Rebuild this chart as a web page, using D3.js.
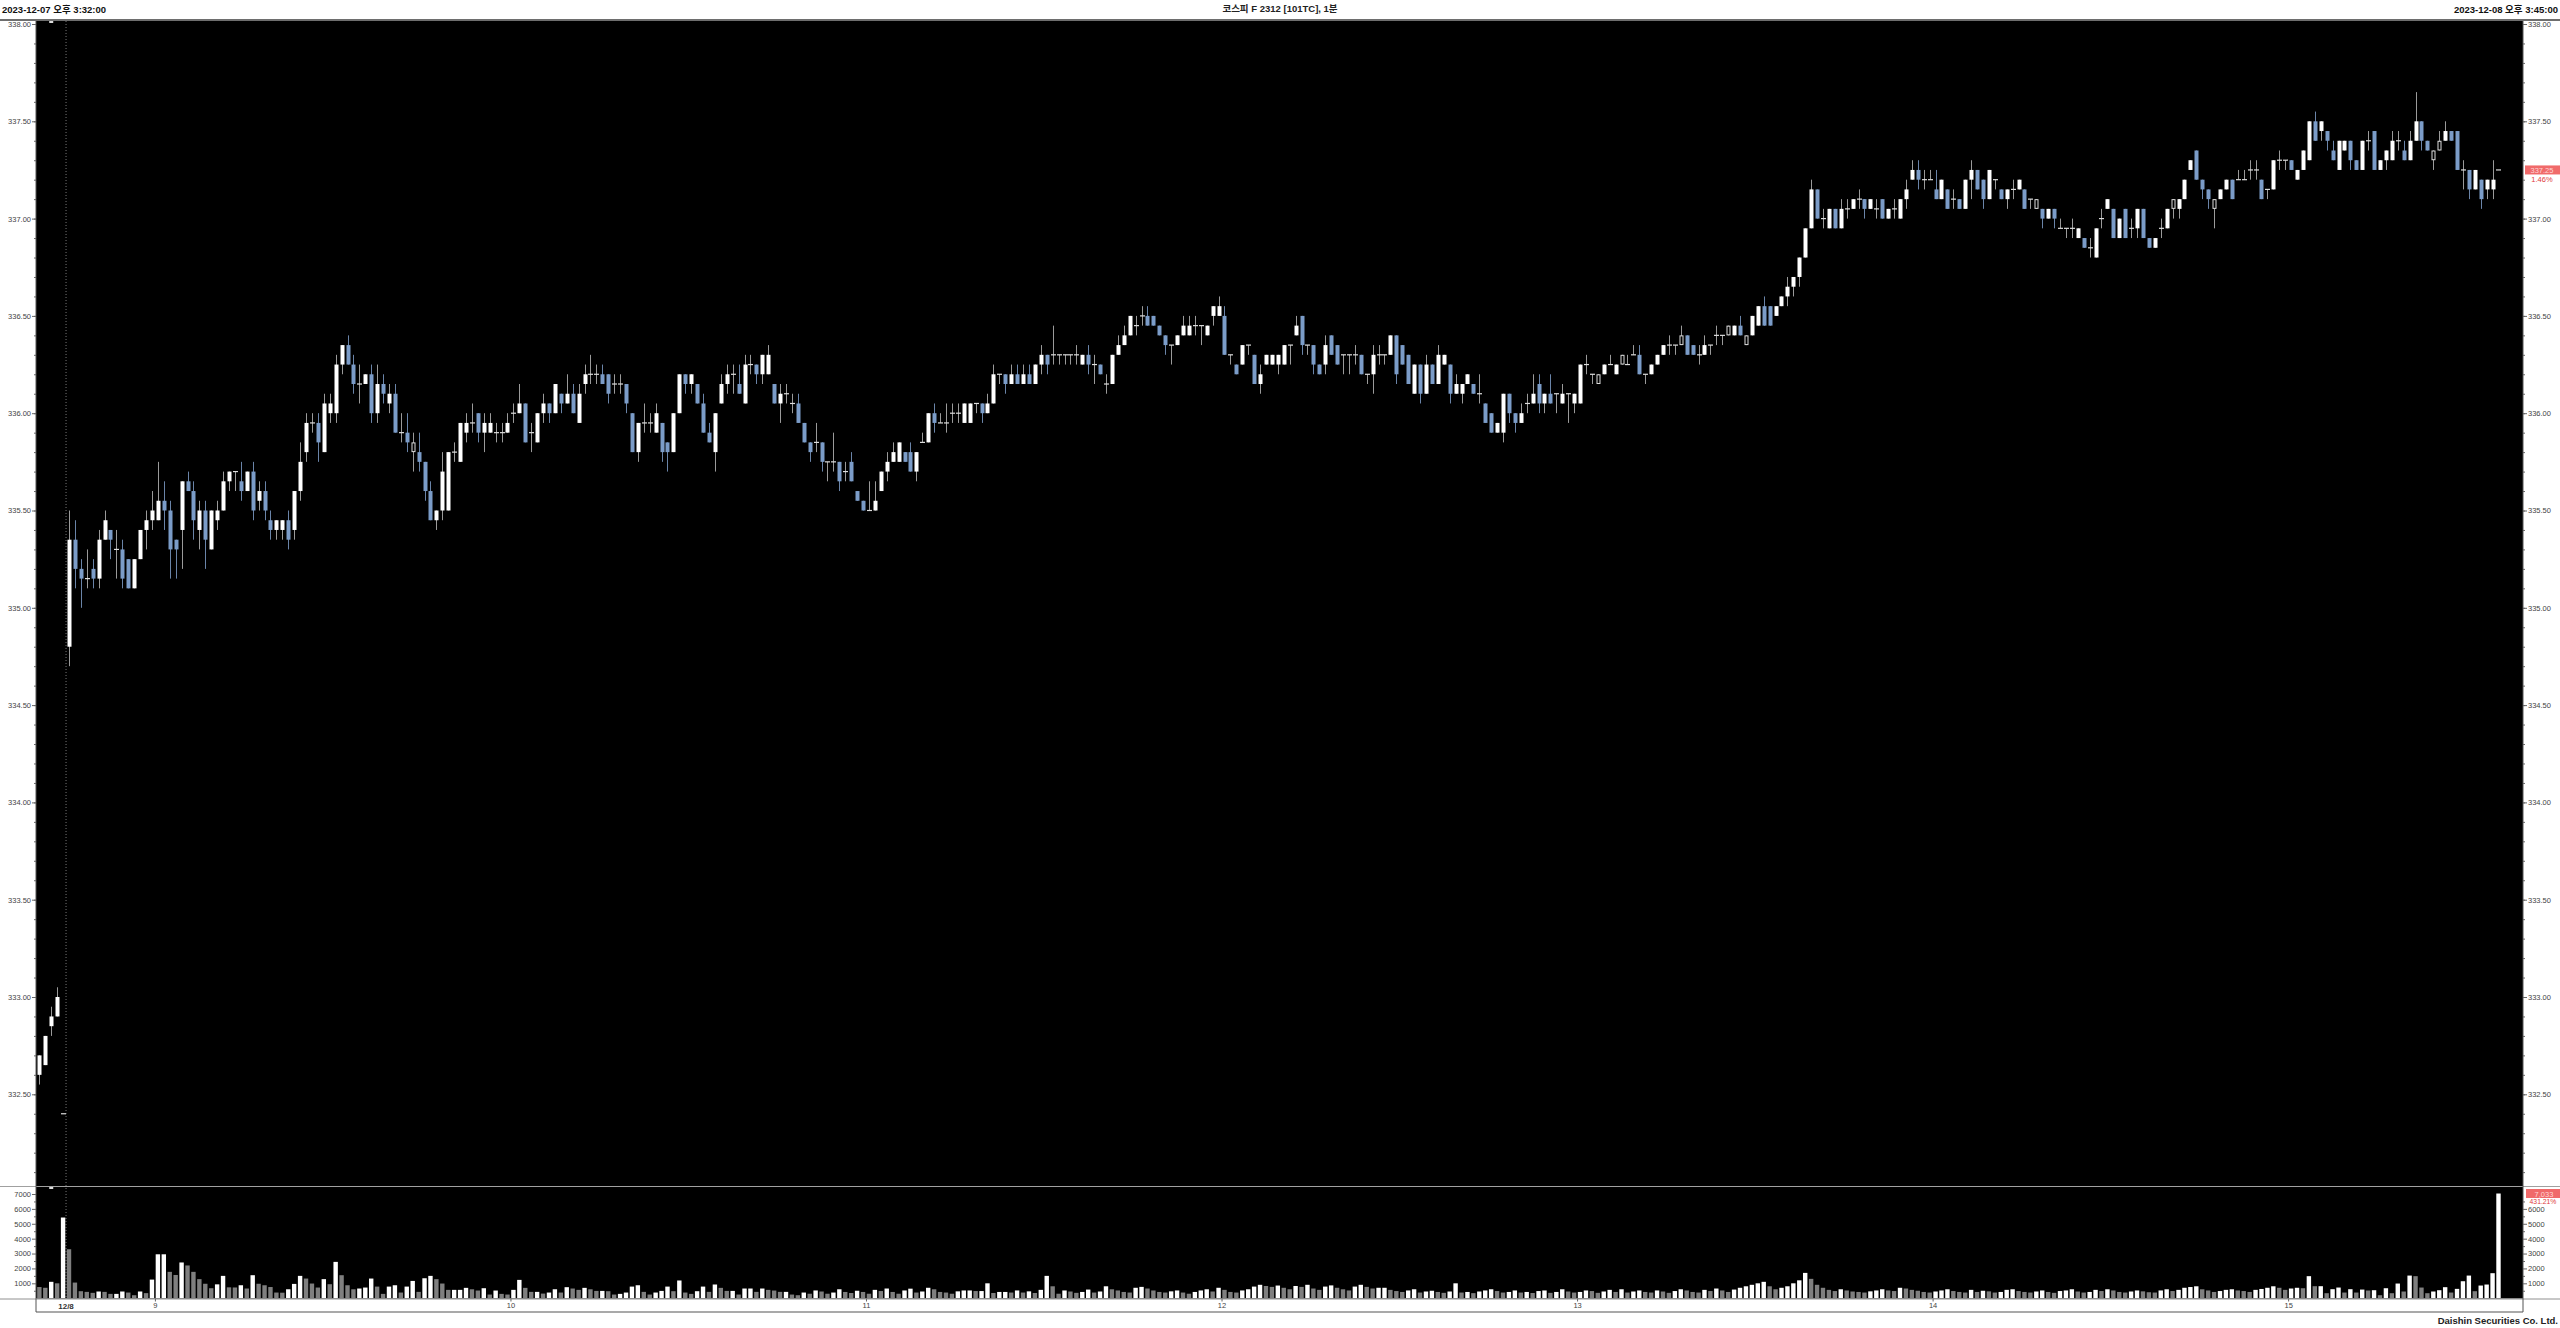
<!DOCTYPE html>
<html><head><meta charset="utf-8">
<script src="https://cdn.jsdelivr.net/npm/d3@7"></script>
<style>
html,body{margin:0;padding:0;background:#fff;}
svg{display:block;}
text{font-family:"Liberation Sans","Noto Sans CJK KR",Arial,sans-serif;}
</style></head>
<body>
<svg id="c" width="2560" height="1328"></svg>
<script>
// ---------------- DATA ----------------
// candle index: -5..-1 = 2023-12-07 15:32..15:45, 0..410 = 2023-12-08 08:45..15:45 (1-minute)
const open = [
332.60,332.65,332.85,332.90,332.40,
334.80,335.35,335.20,335.15,335.20,335.15,335.35,335.40,335.30,335.30,
335.25,335.10,335.25,335.40,335.45,335.45,335.55,335.50,335.35,335.40,
335.65,335.60,335.40,335.50,335.30,335.45,335.50,335.65,335.70,335.65,
335.60,335.70,335.55,335.60,335.45,335.40,335.40,335.45,335.40,335.60,
335.80,335.95,335.95,335.80,336.00,336.00,336.25,336.35,336.25,336.15,
336.15,336.20,336.00,336.15,336.05,336.10,335.90,335.90,335.80,335.80,
335.75,335.60,335.45,335.50,335.50,335.80,335.75,335.90,335.95,336.00,
335.90,335.90,335.90,335.90,335.90,336.00,336.00,336.05,335.90,335.85,
336.00,336.05,336.00,336.10,336.05,336.10,335.95,336.15,336.20,336.20,
336.20,336.20,336.15,336.15,336.15,336.00,335.80,335.95,335.95,335.90,
335.95,335.85,335.80,336.00,336.20,336.15,336.15,336.05,335.90,335.80,
336.05,336.15,336.20,336.15,336.05,336.25,336.25,336.20,336.20,336.15,
336.05,336.10,336.05,336.05,335.95,335.85,335.85,335.85,335.75,335.75,
335.75,335.70,335.75,335.60,335.55,335.50,335.50,335.60,335.70,335.75,
335.75,335.80,335.80,335.70,335.85,335.85,336.00,335.95,335.95,336.00,
336.00,335.95,335.95,336.05,336.05,336.00,336.05,336.20,336.20,336.15,
336.20,336.15,336.20,336.15,336.25,336.30,336.30,336.30,336.30,336.30,
336.30,336.25,336.30,336.25,336.25,336.15,336.15,336.30,336.35,336.40,
336.45,336.50,336.50,336.50,336.45,336.40,336.35,336.35,336.40,336.40,
336.45,336.45,336.40,336.50,336.50,336.50,336.30,336.25,336.25,336.35,
336.30,336.15,336.25,336.25,336.25,336.25,336.35,336.40,336.50,336.35,
336.35,336.25,336.25,336.40,336.35,336.30,336.30,336.30,336.30,336.20,
336.20,336.30,336.30,336.30,336.40,336.35,336.30,336.10,336.25,336.10,
336.25,336.15,336.25,336.25,336.10,336.10,336.15,336.15,336.10,336.05,
336.00,335.90,335.90,336.10,336.00,335.95,336.05,336.05,336.15,336.05,
336.10,336.10,336.05,336.10,336.05,336.05,336.25,336.20,336.15,336.20,
336.25,336.20,336.25,336.25,336.30,336.30,336.20,336.20,336.25,336.30,
336.35,336.35,336.35,336.40,336.35,336.30,336.30,336.35,336.40,336.40,
336.40,336.40,336.45,336.35,336.40,336.45,336.55,336.55,336.50,336.55,
336.60,336.65,336.70,336.80,336.95,337.15,337.00,336.95,337.05,336.95,
337.05,337.05,337.10,337.10,337.05,337.05,337.10,337.00,337.05,337.00,
337.10,337.20,337.25,337.20,337.20,337.15,337.10,337.15,337.10,337.10,
337.05,337.20,337.25,337.20,337.10,337.20,337.15,337.10,337.15,337.15,
337.15,337.10,337.05,337.05,337.00,337.05,336.95,336.95,336.95,336.90,
336.90,336.85,336.80,337.00,337.05,337.05,336.90,337.05,336.95,336.95,
337.05,336.90,336.85,336.95,336.95,337.05,337.05,337.10,337.25,337.35,
337.20,337.15,337.05,337.10,337.15,337.20,337.20,337.20,337.25,337.25,
337.20,337.15,337.15,337.30,337.30,337.30,337.20,337.25,337.30,337.50,
337.45,337.45,337.35,337.25,337.35,337.40,337.30,337.25,337.40,337.45,
337.25,337.30,337.30,337.40,337.35,337.30,337.40,337.50,337.40,337.30,
337.35,337.40,337.45,337.45,337.25,337.25,337.15,337.20,337.15,337.15,337.25
];
const close = [
332.70,332.80,332.90,333.00,332.40,
335.35,335.20,335.15,335.15,335.15,335.35,335.45,335.35,335.30,335.15,
335.10,335.25,335.40,335.45,335.50,335.55,335.50,335.30,335.30,335.65,
335.60,335.45,335.50,335.35,335.50,335.50,335.65,335.70,335.70,335.60,
335.70,335.50,335.60,335.50,335.40,335.45,335.45,335.35,335.60,335.75,
335.95,335.95,335.85,336.05,336.05,336.25,336.35,336.25,336.15,336.15,
336.20,336.00,336.15,336.10,336.10,335.90,335.90,335.85,335.85,335.75,
335.60,335.45,335.50,335.70,335.80,335.80,335.95,335.95,335.95,335.90,
335.95,335.95,335.90,335.90,335.95,336.00,336.05,335.85,335.90,336.00,
336.05,336.00,336.15,336.05,336.10,336.00,336.10,336.20,336.20,336.20,
336.15,336.10,336.15,336.15,336.05,335.80,335.95,335.95,335.95,336.00,
335.80,335.80,336.00,336.20,336.15,336.20,336.05,335.90,335.85,336.00,
336.15,336.20,336.20,336.10,336.25,336.25,336.20,336.30,336.30,336.05,
336.10,336.10,336.05,335.95,335.85,335.80,335.85,335.75,335.75,335.75,
335.65,335.70,335.65,335.55,335.50,335.50,335.55,335.70,335.75,335.80,
335.85,335.75,335.70,335.80,335.85,336.00,335.95,335.95,335.95,336.00,
336.00,336.05,336.05,336.05,336.00,336.05,336.20,336.20,336.15,336.20,
336.15,336.20,336.15,336.25,336.30,336.25,336.30,336.30,336.30,336.30,
336.30,336.30,336.25,336.25,336.20,336.15,336.30,336.35,336.40,336.50,
336.45,336.50,336.45,336.45,336.40,336.35,336.35,336.40,336.45,336.45,
336.45,336.45,336.45,336.55,336.55,336.30,336.30,336.20,336.35,336.35,
336.15,336.20,336.30,336.30,336.30,336.35,336.35,336.45,336.35,336.35,
336.25,336.20,336.35,336.30,336.25,336.30,336.30,336.30,336.20,336.20,
336.30,336.30,336.30,336.40,336.20,336.25,336.15,336.25,336.10,336.25,
336.15,336.30,336.30,336.10,336.15,336.15,336.20,336.10,336.10,335.95,
335.90,335.95,336.10,336.00,335.95,336.00,336.05,336.10,336.05,336.10,
336.05,336.10,336.10,336.10,336.10,336.25,336.25,336.20,336.20,336.25,
336.25,336.25,336.30,336.25,336.30,336.20,336.20,336.25,336.30,336.35,
336.35,336.35,336.40,336.30,336.30,336.30,336.35,336.35,336.40,336.40,
336.45,336.45,336.40,336.40,336.50,336.55,336.45,336.45,336.55,336.60,
336.65,336.70,336.80,336.95,337.15,337.00,337.00,337.05,336.95,337.05,
337.05,337.10,337.10,337.05,337.10,337.05,337.00,337.05,337.05,337.10,
337.15,337.25,337.20,337.20,337.20,337.10,337.20,337.05,337.10,337.05,
337.20,337.25,337.15,337.10,337.25,337.20,337.10,337.15,337.15,337.20,
337.05,337.10,337.10,337.00,337.05,337.00,336.95,336.95,336.95,336.95,
336.85,336.85,336.95,337.00,337.10,336.90,337.00,336.90,336.95,337.05,
336.90,336.85,336.90,336.95,337.05,337.10,337.10,337.20,337.30,337.20,
337.15,337.10,337.10,337.15,337.20,337.10,337.20,337.20,337.25,337.25,
337.10,337.15,337.30,337.30,337.30,337.25,337.25,337.35,337.50,337.40,
337.50,337.40,337.30,337.40,337.40,337.30,337.25,337.40,337.40,337.25,
337.30,337.35,337.40,337.40,337.30,337.40,337.50,337.40,337.35,337.35,
337.40,337.45,337.40,337.25,337.25,337.15,337.25,337.10,337.20,337.20,337.25
];
const high = [
332.70,332.80,332.95,333.05,332.40,
335.50,335.45,335.25,335.30,335.25,335.40,335.50,335.40,335.40,335.35,
335.25,335.25,335.40,335.50,335.60,335.75,335.65,335.55,335.35,335.65,
335.70,335.65,335.55,335.55,335.50,335.55,335.70,335.70,335.70,335.75,
335.70,335.75,335.65,335.65,335.50,335.45,335.45,335.50,335.60,335.85,
336.00,336.00,336.00,336.10,336.10,336.30,336.35,336.40,336.30,336.25,
336.20,336.25,336.25,336.20,336.15,336.15,336.00,336.00,335.90,335.90,
335.75,335.65,335.50,335.80,335.80,335.85,335.95,336.00,336.05,336.00,
336.00,336.00,335.95,335.95,336.00,336.05,336.15,336.05,335.95,336.00,
336.10,336.05,336.15,336.10,336.20,336.15,336.15,336.25,336.30,336.25,
336.25,336.20,336.20,336.20,336.15,336.00,335.95,336.05,336.00,336.05,
335.95,335.85,336.00,336.20,336.20,336.20,336.15,336.10,335.95,336.00,
336.20,336.25,336.25,336.25,336.30,336.30,336.25,336.30,336.35,336.15,
336.15,336.15,336.10,336.10,335.95,335.85,335.95,335.85,335.75,335.90,
335.75,335.75,335.80,335.60,335.55,335.65,335.65,335.70,335.80,335.85,
335.85,335.80,335.85,335.80,335.90,336.00,336.05,336.00,336.05,336.05,
336.05,336.05,336.05,336.05,336.05,336.10,336.25,336.20,336.20,336.25,
336.25,336.25,336.25,336.25,336.35,336.30,336.45,336.30,336.30,336.30,
336.35,336.30,336.35,336.30,336.25,336.20,336.30,336.40,336.45,336.50,
336.50,336.55,336.55,336.50,336.45,336.40,336.35,336.40,336.50,336.50,
336.50,336.45,336.45,336.55,336.60,336.55,336.30,336.25,336.35,336.35,
336.30,336.25,336.30,336.30,336.30,336.35,336.35,336.50,336.50,336.35,
336.35,336.25,336.40,336.40,336.35,336.30,336.30,336.35,336.30,336.20,
336.35,336.35,336.30,336.40,336.40,336.35,336.30,336.25,336.25,336.30,
336.25,336.35,336.30,336.25,336.20,336.15,336.20,336.15,336.20,336.05,
336.00,335.95,336.10,336.10,336.00,336.05,336.10,336.20,336.20,336.10,
336.20,336.10,336.15,336.10,336.10,336.25,336.30,336.20,336.20,336.25,
336.30,336.25,336.30,336.30,336.35,336.35,336.20,336.25,336.30,336.35,
336.40,336.35,336.45,336.40,336.35,336.35,336.40,336.35,336.45,336.40,
336.45,336.45,336.50,336.40,336.50,336.55,336.60,336.55,336.55,336.60,
336.70,336.70,336.80,336.95,337.20,337.15,337.05,337.05,337.05,337.10,
337.10,337.10,337.15,337.10,337.10,337.10,337.10,337.05,337.10,337.10,
337.20,337.30,337.30,337.25,337.25,337.25,337.20,337.15,337.15,337.10,
337.20,337.30,337.25,337.20,337.25,337.20,337.15,337.15,337.20,337.20,
337.15,337.10,337.10,337.05,337.05,337.05,337.00,336.95,337.00,336.95,
336.90,336.90,336.95,337.05,337.10,337.05,337.00,337.05,337.00,337.05,
337.05,336.90,336.90,337.00,337.05,337.10,337.10,337.20,337.30,337.35,
337.20,337.15,337.10,337.15,337.20,337.20,337.25,337.25,337.30,337.30,
337.20,337.15,337.30,337.35,337.30,337.30,337.25,337.35,337.50,337.55,
337.50,337.45,337.40,337.40,337.40,337.40,337.30,337.40,337.45,337.45,
337.30,337.35,337.45,337.45,337.40,337.45,337.65,337.50,337.40,337.35,
337.45,337.50,337.45,337.45,337.30,337.25,337.25,337.20,337.20,337.30,337.25
];
const low = [
332.55,332.65,332.80,332.90,332.40,
334.70,335.10,335.00,335.10,335.10,335.10,335.35,335.25,335.15,335.10,
335.10,335.10,335.25,335.30,335.40,335.45,335.40,335.15,335.15,335.20,
335.60,335.35,335.30,335.20,335.30,335.40,335.50,335.60,335.60,335.55,
335.60,335.45,335.50,335.45,335.35,335.35,335.35,335.30,335.35,335.55,
335.75,335.90,335.75,335.80,335.95,335.95,336.20,336.25,336.10,336.05,
336.15,335.95,335.95,336.05,336.00,335.90,335.85,335.80,335.70,335.70,
335.55,335.45,335.40,335.45,335.50,335.75,335.75,335.85,335.90,335.85,
335.80,335.90,335.85,335.85,335.90,335.95,336.00,335.85,335.80,335.85,
335.95,335.95,336.00,336.00,336.05,336.00,335.95,336.10,336.15,336.15,
336.15,336.05,336.10,336.10,336.00,335.80,335.75,335.90,335.90,335.90,
335.75,335.70,335.80,336.00,336.10,336.10,336.05,335.90,335.85,335.70,
336.05,336.10,336.10,336.10,336.05,336.20,336.15,336.15,336.20,336.05,
335.95,336.05,336.00,335.95,335.85,335.75,335.80,335.70,335.65,335.70,
335.60,335.65,335.65,335.55,335.50,335.50,335.50,335.60,335.65,335.75,
335.75,335.75,335.70,335.65,335.85,335.85,335.90,335.95,335.90,335.95,
335.95,335.95,335.95,336.00,335.95,336.00,336.05,336.15,336.10,336.15,
336.15,336.15,336.15,336.15,336.20,336.20,336.25,336.25,336.25,336.25,
336.25,336.25,336.20,336.15,336.20,336.10,336.15,336.30,336.35,336.40,
336.40,336.45,336.45,336.45,336.40,336.30,336.25,336.35,336.40,336.40,
336.40,336.35,336.40,336.45,336.50,336.30,336.25,336.20,336.25,336.30,
336.15,336.10,336.25,336.25,336.20,336.25,336.25,336.40,336.30,336.30,
336.20,336.20,336.20,336.30,336.25,336.20,336.20,336.25,336.20,336.15,
336.10,336.25,336.25,336.30,336.15,336.25,336.15,336.10,336.05,336.10,
336.15,336.15,336.25,336.05,336.10,336.05,336.15,336.10,336.05,335.95,
335.90,335.90,335.85,335.95,335.90,335.95,336.00,336.05,336.00,336.00,
336.05,336.00,336.05,335.95,336.00,336.05,336.20,336.15,336.15,336.20,
336.25,336.20,336.25,336.25,336.30,336.20,336.15,336.20,336.25,336.30,
336.30,336.30,336.35,336.30,336.30,336.25,336.30,336.30,336.35,336.35,
336.40,336.40,336.40,336.35,336.40,336.45,336.45,336.45,336.50,336.55,
336.55,336.60,336.65,336.80,336.95,337.00,336.95,336.95,336.95,336.95,
337.00,337.05,337.05,337.00,337.05,337.00,337.00,337.00,337.00,337.00,
337.05,337.20,337.15,337.15,337.20,337.10,337.10,337.05,337.05,337.05,
337.05,337.10,337.15,337.05,337.10,337.15,337.10,337.05,337.10,337.15,
337.05,337.05,337.05,336.95,337.00,336.95,336.95,336.90,336.90,336.90,
336.85,336.80,336.80,336.95,337.05,336.90,336.90,336.90,336.90,336.90,
336.90,336.85,336.85,336.90,336.95,337.00,337.00,337.10,337.25,337.20,
337.10,337.05,336.95,337.10,337.15,337.10,337.20,337.20,337.20,337.20,
337.10,337.10,337.15,337.25,337.25,337.25,337.20,337.25,337.30,337.40,
337.40,337.35,337.30,337.25,337.35,337.25,337.25,337.25,337.35,337.25,
337.25,337.25,337.30,337.35,337.30,337.30,337.40,337.35,337.35,337.25,
337.35,337.40,337.40,337.25,337.15,337.10,337.15,337.05,337.10,337.10,337.25
];
const volume = [
750,700,1100,1000,5420,
3290,1050,470,425,360,450,425,290,290,450,
380,200,450,340,1250,2950,2950,1770,1560,2400,
2200,1770,1280,970,670,930,1500,730,720,870,
650,1545,970,870,750,380,370,600,960,1500,
1320,985,716,1280,940,2440,1545,870,600,650,
716,1320,780,290,780,870,380,780,1160,425,
1340,1500,1280,985,560,560,560,695,600,515,
670,245,515,290,245,560,1230,695,425,425,
310,380,600,380,740,650,560,695,600,490,
490,470,245,290,380,780,870,425,245,380,
490,780,470,1190,380,290,470,780,425,920,
695,490,490,245,650,650,425,650,560,515,
425,425,245,200,
380,300,520,450,300,380,600,420,350,500,
420,300,560,480,650,420,300,520,640,380,
450,700,600,420,380,300,460,520,520,480,
480,1000,350,420,420,380,520,380,460,350,
560,1500,800,300,520,450,360,420,580,380,
450,800,600,520,420,380,700,760,650,520,
420,380,460,520,380,300,420,520,600,450,
700,560,420,380,520,600,780,900,820,760,
850,700,600,820,760,900,650,560,780,860,
700,600,520,780,900,760,650,700,700,560,
480,420,520,600,380,450,500,420,360,450,
1000,380,420,340,450,520,600,480,380,420,
520,380,420,350,480,520,360,420,600,450,
380,420,520,480,360,450,560,420,600,380,
450,520,420,380,520,450,360,480,600,520,
420,380,560,480,650,520,420,580,700,800,
900,1000,1100,800,600,700,800,1000,1200,1700,
1300,900,700,560,480,600,520,450,420,380,
460,520,600,520,480,700,650,560,500,420,
380,450,520,600,480,420,380,560,420,500,
460,380,420,560,600,480,420,380,450,520,
420,360,480,520,600,450,380,420,560,480,
600,520,420,380,450,520,460,400,380,520,
600,480,560,700,750,800,600,520,420,480,
560,600,520,480,420,560,620,700,800,700,
560,650,700,
670,1480,806,806,336,605,716,380,605,380,
580,515,537,200,670,336,985,450,1520,1480,
716,336,450,537,740,380,627,1140,1520,470,
850,918,1680,7033
];
const firstIndex = -5;               // first candle is 5 slots before 12/8 08:45
const hollowIdx = [58,258,262,272,280,283,332,355,362,399,400];
const markerIdx = -3;
const priceTicks = [332.50,333.00,333.50,334.00,334.50,335.00,335.50,336.00,336.50,337.00,337.50,338.00];
const volTicks = [1000,2000,3000,4000,5000,6000,7000];
const hourIdx = [15,75,135,195,255,315,375];
const hourLabels = ["9","10","11","12","13","14","15"];
const dayIdx = 0, dayLabel = "12/8";
const lastPrice = "337.25", lastChange = "1.46%";
const lastVol = "7,033", lastVolChange = "431.21%";
const titleText = "코스피 F 2312 [101TC], 1분";
const startText = "2023-12-07 오후 3:32:00";
const endText = "2023-12-08 오후 3:45:00";
const footer = "Daishin Securities Co. Ltd.";

// ---------------- LAYOUT ----------------
const svg = d3.select("#c");
const PL = 36, PR = 2523, PT = 21, PB = 1186, VT = 1187, VB = 1298.5, AXB = 1312;
const step = 5.9256;
const x = d3.scaleLinear().domain([-5, 410]).range([69 - 5*step, 69 + 410*step]);
const y = d3.scaleLinear().domain([332.5, 338]).range([1094.3, 24]);
const yv = d3.scaleLinear().domain([0, 7000]).range([1298.2, 1194]);

const n = open.length;
const data = d3.range(n).map(k => ({
  i: k + firstIndex, o: open[k], c: close[k], h: high[k], l: low[k], v: volume[k]
}));

svg.append("rect").attr("width",2560).attr("height",1328).attr("fill","#fff");
svg.append("rect").attr("x",PL).attr("y",PT).attr("width",PR-PL).attr("height",PB-PT).attr("fill","#000");
svg.append("rect").attr("x",PL).attr("y",VT).attr("width",PR-PL).attr("height",VB-VT).attr("fill","#000");

const defs = svg.append("defs");
defs.append("clipPath").attr("id","cp").append("rect").attr("x",PL).attr("y",PT).attr("width",PR-PL).attr("height",PB-PT);
defs.append("clipPath").attr("id","cv").append("rect").attr("x",PL).attr("y",VT).attr("width",PR-PL).attr("height",VB-VT);

// day boundary dotted line
const dayX = x(dayIdx) - step/2;
svg.append("line").attr("x1",dayX).attr("x2",dayX).attr("y1",PT).attr("y2",VB)
  .attr("stroke","#777").attr("stroke-width",1).attr("stroke-dasharray","1,2");

// ---------- candles ----------
const gP = svg.append("g").attr("clip-path","url(#cp)");
const UP = "#ffffff", DOWN = "#7b9cc8";
const bw = 4;
data.forEach(d => {
  const cx = Math.round(x(d.i)) + 0.5;
  const up = d.c > d.o, dn = d.c < d.o;
  const hollow = hollowIdx.includes(d.i);
  const hi = Math.max(d.h, d.o, d.c), lo = Math.min(d.l, d.o, d.c);
  gP.append("line").attr("x1",cx).attr("x2",cx).attr("y1",y(hi)).attr("y2",y(lo))
    .attr("stroke", dn ? "#6a84a8" : "#9a9a9a").attr("stroke-width",1);
  if (!up && !dn) {
    gP.append("line").attr("x1",cx-2.5).attr("x2",cx+2.5).attr("y1",y(d.o)).attr("y2",y(d.o))
      .attr("stroke","#ddd").attr("stroke-width",1.2);
  } else {
    const top = y(Math.max(d.o,d.c)), bot = y(Math.min(d.o,d.c));
    if (hollow) {
      gP.append("rect").attr("x",cx-bw/2+0.5).attr("y",top+0.5).attr("width",bw-1).attr("height",Math.max(1,bot-top-1))
        .attr("fill","#000").attr("stroke","#ddd").attr("stroke-width",1);
    } else {
      gP.append("rect").attr("x",cx-bw/2).attr("y",top).attr("width",bw).attr("height",Math.max(1.2,bot-top))
        .attr("fill", up ? UP : DOWN);
    }
  }
});
gP.append("rect").attr("x",x(markerIdx)-2).attr("y",PT).attr("width",4).attr("height",2).attr("fill","#ddd");

// ---------- volume ----------
const gV = svg.append("g").attr("clip-path","url(#cv)");
data.forEach((d,k) => {
  if (d.v == null) return;
  const prev = k > 0 ? data[k-1].v : Infinity;
  const col = d.v >= prev ? "#ffffff" : "#7f7f7f";
  gV.append("rect").attr("x",x(d.i)-2.2).attr("width",4.4)
    .attr("y",yv(d.v)).attr("height",yv(0)-yv(d.v)).attr("fill",col);
});
gV.append("rect").attr("x",x(markerIdx)-2).attr("y",VT).attr("width",4).attr("height",2).attr("fill","#ddd");

// ---------- frame lines ----------
svg.append("line").attr("x1",0).attr("x2",2560).attr("y1",20).attr("y2",20).attr("stroke","#6e6e6e").attr("stroke-width",2);
svg.append("line").attr("x1",0).attr("x2",2560).attr("y1",PB+0.5).attr("y2",PB+0.5).attr("stroke","#a0a0a0").attr("stroke-width",1);
svg.append("line").attr("x1",0).attr("x2",2560).attr("y1",VB+0.5).attr("y2",VB+0.5).attr("stroke","#909090").attr("stroke-width",1);
svg.append("line").attr("x1",PL).attr("x2",PR).attr("y1",AXB).attr("y2",AXB).attr("stroke","#555").attr("stroke-width",1.2);
svg.append("line").attr("x1",PL).attr("x2",PL).attr("y1",PT).attr("y2",AXB).attr("stroke","#555").attr("stroke-width",1);
svg.append("line").attr("x1",PR).attr("x2",PR).attr("y1",PT).attr("y2",AXB).attr("stroke","#555").attr("stroke-width",1);

// ---------- axes ----------
const fmt2 = d3.format(".2f");
const minorP = d3.range(3321, 3381).map(v => v/10);
function styleAxis(g){
  g.select(".domain").remove();
  g.selectAll("text").attr("fill","#444").attr("font-size","7.5px")
    .attr("font-family","'Liberation Sans',Arial,sans-serif");
  g.selectAll("line").attr("stroke","#666");
}
svg.append("g").attr("transform",`translate(${PL},0)`)
  .call(d3.axisLeft(y).tickValues(minorP).tickSize(2).tickFormat("")).call(styleAxis);
svg.append("g").attr("transform",`translate(${PL},0)`)
  .call(d3.axisLeft(y).tickValues(priceTicks).tickSize(4).tickPadding(1).tickFormat(fmt2)).call(styleAxis);
svg.append("g").attr("transform",`translate(${PR},0)`)
  .call(d3.axisRight(y).tickValues(minorP).tickSize(2).tickFormat("")).call(styleAxis);
svg.append("g").attr("transform",`translate(${PR},0)`)
  .call(d3.axisRight(y).tickValues(priceTicks).tickSize(4).tickPadding(1).tickFormat(fmt2)).call(styleAxis);

const minorV = [500,1500,2500,3500,4500,5500,6500];
svg.append("g").attr("transform",`translate(${PL},0)`)
  .call(d3.axisLeft(yv).tickValues(minorV).tickSize(2).tickFormat("")).call(styleAxis);
svg.append("g").attr("transform",`translate(${PL},0)`)
  .call(d3.axisLeft(yv).tickValues(volTicks).tickSize(4).tickPadding(1).tickFormat(d3.format("d"))).call(styleAxis);
svg.append("g").attr("transform",`translate(${PR},0)`)
  .call(d3.axisRight(yv).tickValues(minorV).tickSize(2).tickFormat("")).call(styleAxis);
svg.append("g").attr("transform",`translate(${PR},0)`)
  .call(d3.axisRight(yv).tickValues(volTicks.filter(v => v < 7000)).tickSize(4).tickPadding(1).tickFormat(d3.format("d"))).call(styleAxis);

// x axis (time)
const xTickPos = hourIdx.map(i => x(i) - step/2);
const gx = svg.append("g").attr("transform",`translate(0,${VB})`)
  .call(d3.axisBottom(d3.scaleIdentity()).tickValues(xTickPos).tickSize(3).tickPadding(1)
    .tickFormat((d,k) => hourLabels[k]));
styleAxis(gx);
svg.append("text").attr("x",dayX).attr("y",1309).attr("text-anchor","middle")
  .attr("font-size","8px").attr("font-weight","bold").attr("fill","#333").text(dayLabel);

// ---------- last value labels ----------
const ly = y(+lastPrice);
svg.append("rect").attr("x",2525).attr("y",ly-4.5).attr("width",35).attr("height",9).attr("fill","#f06a6a");
svg.append("text").attr("x",2542).attr("y",ly+3).attr("text-anchor","middle").attr("font-size","7.5px").attr("fill","#ffd6d6").text(lastPrice);
svg.append("text").attr("x",2542).attr("y",ly+12).attr("text-anchor","middle").attr("font-size","7.5px").attr("fill","#e03a3a").text(lastChange);
const vy = yv(7033);
svg.append("rect").attr("x",2526).attr("y",vy-4.5).attr("width",34).attr("height",9).attr("fill","#f06a6a");
svg.append("text").attr("x",2544).attr("y",vy+3).attr("text-anchor","middle").attr("font-size","7.5px").attr("fill","#ffd6d6").text(lastVol);
svg.append("text").attr("x",2543).attr("y",vy+10.2).attr("text-anchor","middle").attr("font-size","6.8px").attr("fill","#e03a3a").text(lastVolChange);

// ---------- header / footer ----------
svg.append("text").attr("x",2).attr("y",13).attr("font-size","9.5px").attr("font-weight","bold").attr("fill","#111").text(startText);
svg.append("text").attr("x",2558).attr("y",13).attr("text-anchor","end").attr("font-size","9.5px").attr("font-weight","bold").attr("fill","#111").text(endText);
svg.append("text").attr("x",1280).attr("y",12).attr("text-anchor","middle").attr("font-size","9.5px").attr("font-weight","bold").attr("fill","#222").text(titleText);
svg.append("text").attr("x",2558).attr("y",1324).attr("text-anchor","end").attr("font-size","9.5px").attr("font-weight","bold").attr("fill","#222").text(footer);
</script>
</body></html>
